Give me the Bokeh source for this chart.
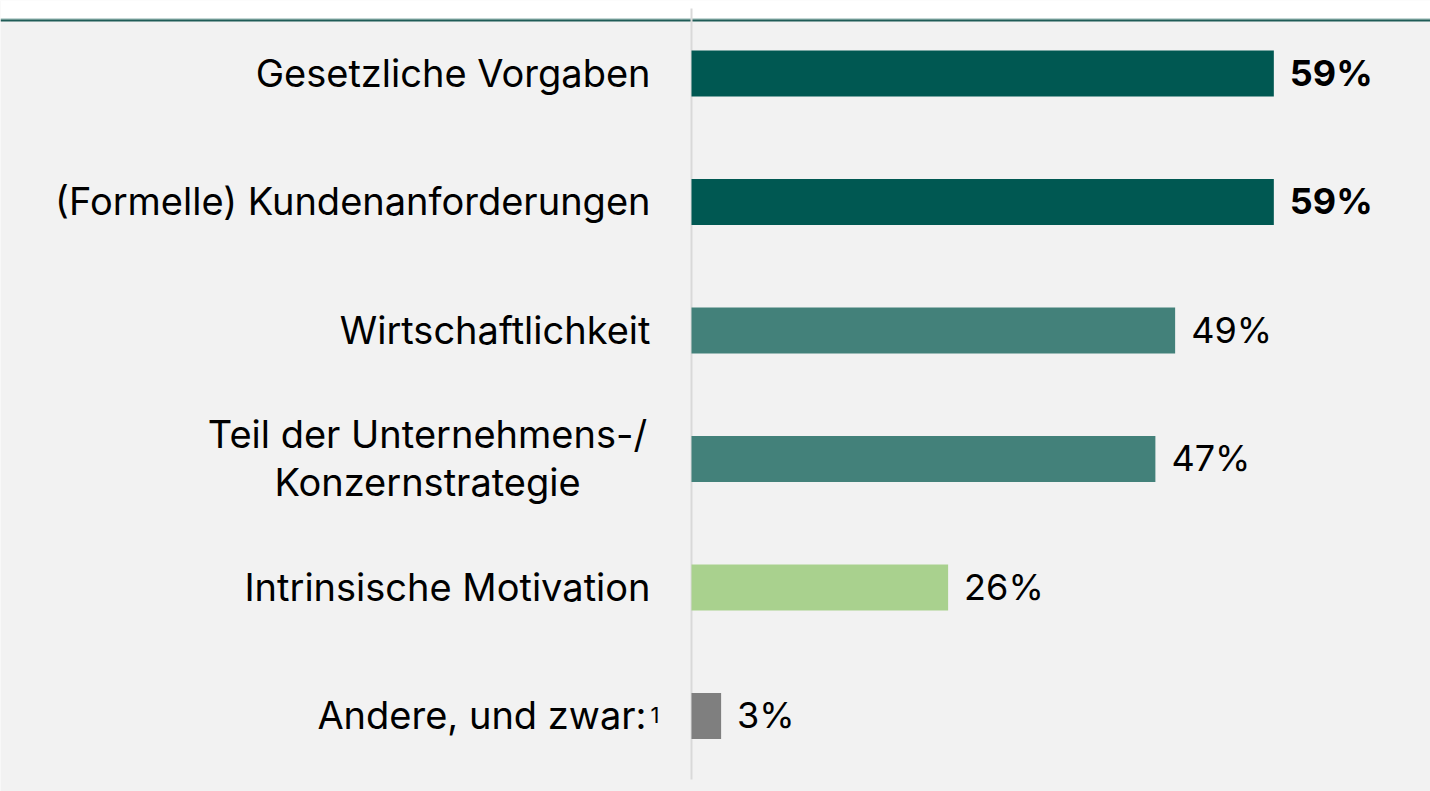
from bokeh.plotting import figure
from bokeh.models import ColumnDataSource, Range1d
from bokeh.core.properties import value
from bokeh.embed import file_html
from bokeh.resources import INLINE

# ---- data ----
categories = [
    "Gesetzliche Vorgaben",
    "(Formelle) Kundenanforderungen",
    "Wirtschaftlichkeit",
    "Teil der Unternehmens-/\nKonzernstrategie",
    "Intrinsische Motivation",
    "Andere, und zwar:",
]
footnotes = ["", "", "", "", "", "1"]
values = [59, 59, 49, 47, 26, 3]
value_labels = ["59%", "59%", "49%", "47%", "26%", "3%"]
bar_colors = ["#005852", "#005852", "#43817A", "#43817A", "#A9D18E", "#7F7F7F"]
label_weights = ["bold", "bold", "normal", "normal", "normal", "normal"]

FONT = "Inter"
W, H = 1430, 791
PX_PER_PCT = 9.87
AXIS_X = 691            # px from figure left
ROW = 128.5             # px per category
FIRST = 73              # px from figure top to first bar centre
BASE = -1               # text baseline offset (px)

x0 = -AXIS_X / PX_PER_PCT
x1 = (W - AXIS_X) / PX_PER_PCT
y_top = -FIRST / ROW
y_bot = (H - FIRST) / ROW


def py(px):
    """pixel row from the top -> data y"""
    return y_top + px / ROW


p = figure(width=W, height=H, output_backend="svg", toolbar_location=None,
           x_range=Range1d(x0, x1), y_range=Range1d(y_bot, y_top),
           x_axis_location=None, y_axis_location=None, min_border=0)
p.outline_line_color = None
p.background_fill_color = "#F2F2F2"
p.border_fill_color = "#F2F2F2"
p.xgrid.visible = False
p.ygrid.visible = False

# top white band and teal rule
p.quad(left=x0, right=x1, top=py(-2), bottom=py(18), fill_color="#FFFFFF", line_color=None)
p.segment(x0=x0, x1=x1, y0=py(18.5), y1=py(18.5), line_color="#8FB5B0", line_width=1)
p.segment(x0=x0, x1=x1, y0=py(20), y1=py(20), line_color="#1F5C57", line_width=2)
# vertical baseline
p.segment(x0=0, x1=0, y0=py(8), y1=py(779), line_color="#D9D9D9", line_width=2)

idx = list(range(len(categories)))
src = ColumnDataSource(dict(y=idx, v=values, lab=value_labels, c=bar_colors, w=label_weights))

p.hbar(y="y", left=0, right="v", height=46 / ROW, fill_color="c", line_color=None, source=src)

p.text(x="v", y="y", text="lab", source=src, x_offset=16, y_offset=BASE,
       text_align="left", text_baseline="alphabetic", text_font=value(FONT),
       text_font_size="36px", text_font_style="w", text_color="#000000")

# category labels (single-line right aligned, multi-line centred)
sx, sy, st = [], [], []
mx, my, mt, moff = [], [], [], []
for i, cat in enumerate(categories):
    lines = cat.split("\n")
    if len(lines) == 1:
        sx.append(0); sy.append(i); st.append(cat)
    else:
        n = len(lines)
        for k, ln in enumerate(lines):
            mx.append(0); my.append(i); mt.append(ln)
            moff.append(BASE + (k - (n - 1) / 2) * 48)

single_idx = [i for i, c in enumerate(categories) if "\n" not in c]
off_right = [-41 - (4 if footnotes[i] else 0) for i in single_idx]
p.text(x=sx, y=sy, text=st, x_offset=off_right, y_offset=BASE,
       text_align="right", text_baseline="alphabetic", text_font=value(FONT),
       text_font_size="38px", text_color="#000000")
p.text(x=mx, y=my, text=mt, x_offset=-264, y_offset=moff,
       text_align="center", text_baseline="alphabetic", text_font=value(FONT),
       text_font_size="38px", text_color="#000000")

fx = [0 for f in footnotes if f]
fy = [i for i, f in enumerate(footnotes) if f]
ft = [f for f in footnotes if f]
p.text(x=fx, y=fy, text=ft, x_offset=-41, y_offset=BASE,
       text_align="left", text_baseline="alphabetic", text_font=value(FONT),
       text_font_size="22px", text_color="#000000")

open("out.html", "w").write(file_html(p, INLINE))
